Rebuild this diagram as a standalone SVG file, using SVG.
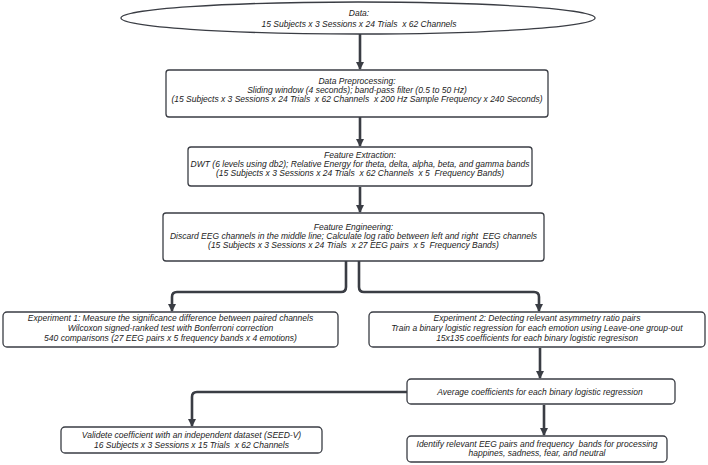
<svg xmlns="http://www.w3.org/2000/svg" width="708" height="465" viewBox="0 0 708 465">
<defs>
<marker id="ah" markerUnits="userSpaceOnUse" markerWidth="8" markerHeight="10" refX="7" refY="4" orient="auto">
<path d="M0,0 L8,4 L0,8 Z" fill="#3a3d44"/>
</marker>
<style>
.box{fill:#fff;stroke:#3a3d44;stroke-width:1.3}
.t{font-family:"Liberation Sans",Arial,sans-serif;font-size:8.5px;font-style:italic;fill:#222;text-anchor:middle;white-space:pre}
.c{fill:none;stroke:#3a3d44;stroke-width:2.6;stroke-linejoin:round}
</style>
</defs>
<rect width="708" height="465" fill="#fff"/>
<g id="connectors">
<path class="c" d="M360,34 V69" marker-end="url(#ah)"/>
<path class="c" d="M360,117 V146" marker-end="url(#ah)"/>
<path class="c" d="M360,187 V212" marker-end="url(#ah)"/>
<path class="c" d="M346,261 V287 Q346,292 341,292 H177 Q172,292 172,297 V311" marker-end="url(#ah)"/>
<path class="c" d="M359,261 V287 Q359,292 364,292 H534 Q539,292 539,297 V311" marker-end="url(#ah)"/>
<path class="c" d="M540,348 V378" marker-end="url(#ah)"/>
<path class="c" d="M407,392 H197 Q192,392 192,397 V426" marker-end="url(#ah)"/>
<path class="c" d="M544,405 V435" marker-end="url(#ah)"/>
</g>
<g id="n1"><ellipse class="box" cx="358" cy="18" rx="237" ry="16"/>
<text class="t" x="359" y="15.5">Data:</text>
<text class="t" x="359" y="26.5">15 Subjects x 3 Sessions x 24 Trials  x 62 Channels</text></g>
<g id="n2"><rect class="box" x="166" y="70" width="382" height="47" rx="3"/>
<text class="t" x="357" y="84">Data Preprocessing:</text>
<text class="t" x="357" y="93">Sliding window (4 seconds); band-pass filter (0.5 to 50 Hz)</text>
<text class="t" x="357" y="102">(15 Subjects x 3 Sessions x 24 Trials  x 62 Channels  x 200 Hz Sample Frequency x 240 Seconds)</text></g>
<g id="n3"><rect class="box" x="188" y="147" width="344" height="39" rx="3"/>
<text class="t" x="360" y="158">Feature Extraction:</text>
<text class="t" x="360" y="167">DWT (6 levels using db2); Relative Energy for theta, delta, alpha, beta, and gamma bands</text>
<text class="t" x="360" y="176">(15 Subjects x 3 Sessions x 24 Trials  x 62 Channels  x 5  Frequency Bands)</text></g>
<g id="n4"><rect class="box" x="163" y="213" width="381" height="48" rx="3"/>
<text class="t" x="353.5" y="230">Feature Engineering:</text>
<text class="t" x="353.5" y="239">Discard EEG channels in the middle line; Calculate log ratio between left and right  EEG channels</text>
<text class="t" x="353.5" y="248">(15 Subjects x 3 Sessions x 24 Trials  x 27 EEG pairs  x 5  Frequency Bands)</text></g>
<g id="n5"><rect class="box" x="3" y="312" width="335" height="35" rx="4"/>
<text class="t" x="170.5" y="320.5">Experiment 1: Measure the significance difference between paired channels</text>
<text class="t" x="170.5" y="330.5">Wilcoxon signed-ranked test with Bonferroni correction</text>
<text class="t" x="170.5" y="340.5">540 comparisons (27 EEG pairs x 5 frequency bands x 4 emotions)</text></g>
<g id="n6"><rect class="box" x="369" y="312" width="336" height="35" rx="4"/>
<text class="t" x="537" y="320.5">Experiment 2: Detecting relevant asymmetry ratio pairs</text>
<text class="t" x="537" y="330.5">Train a binary logistic regression for each emotion using Leave-one group-out</text>
<text class="t" x="537" y="340.5">15x135 coefficients for each binary logistic regresison</text></g>
<g id="n7"><rect class="box" x="407" y="379" width="268" height="25" rx="4"/>
<text class="t" x="540" y="394.5">Average coefficients for each binary logistic regression</text></g>
<g id="n8"><rect class="box" x="61" y="427" width="261" height="26" rx="4"/>
<text class="t" x="191.5" y="437.5">Validete coefficient with an independent dataset (SEED-V)</text>
<text class="t" x="191.5" y="447.5">16 Subjects x 3 Sessions x 15 Trials  x 62 Channels</text></g>
<g id="n9"><rect class="box" x="407" y="436" width="260" height="26" rx="4"/>
<text class="t" x="537" y="446.5">Identify relevant EEG pairs and frequency  bands for processing</text>
<text class="t" x="537" y="456">happines, sadness, fear, and neutral</text></g>
</svg>
